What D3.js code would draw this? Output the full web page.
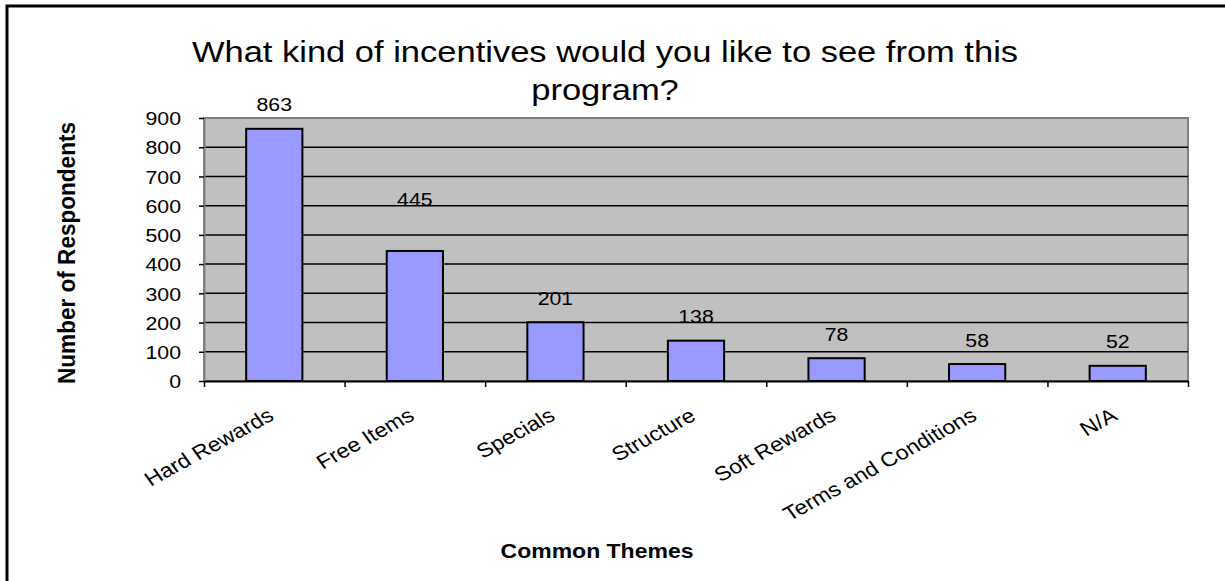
<!DOCTYPE html>
<html>
<head>
<meta charset="utf-8">
<script src="https://cdn.jsdelivr.net/npm/d3@7"></script>
<style>
  body { margin: 0; background: #fff; }
  text { font-family: "Liberation Sans", Arial, sans-serif; fill: #000; }
</style>
</head>
<body>
<div id="chart"></div>
<script>
// data
const categories = ["Hard Rewards", "Free Items", "Specials", "Structure", "Soft Rewards", "Terms and Conditions", "N/A"];
const respondents = [863, 445, 201, 138, 78, 58, 52];
const yTicks = [0, 100, 200, 300, 400, 500, 600, 700, 800, 900];
const titleLines = ["What kind of incentives would you like to see from this", "program?"];

const width = 1225;
const height = 581;
const plot = {l: 204, r: 1188, t: 118, b: 381};
const stretch = 1.15; // picture is a bit wider than tall

const svg = d3.select("#chart")
    .append("svg")
    .attr("width", width)
    .attr("height", height)
    .attr("viewBox", [0, 0, width, height]);

svg.append("rect")
    .attr("width", width)
    .attr("height", height)
    .attr("fill", "white");

// outer frame (right and bottom fall off the page)
svg.append("rect")
    .attr("x", 7)
    .attr("y", 6)
    .attr("width", 1400)
    .attr("height", 800)
    .attr("fill", "none")
    .attr("stroke", "black")
    .attr("stroke-width", 3);

const x = d3.scaleBand()
    .domain(categories)
    .range([plot.l, plot.r])
    .paddingInner(0.6)
    .paddingOuter(0.3);

const xEdge = d3.scaleLinear()
    .domain([0, categories.length])
    .range([plot.l, plot.r]);

const y = d3.scaleLinear()
    .domain([0, 900])
    .range([plot.b, plot.t]);

// plot area
svg.append("rect")
    .attr("x", plot.l)
    .attr("y", plot.t)
    .attr("width", plot.r - plot.l)
    .attr("height", plot.b - plot.t)
    .attr("fill", "#c0c0c0")
    .attr("stroke", "#808080")
    .attr("stroke-width", 2);

// gridlines
svg.append("g")
    .selectAll("line")
    .data(yTicks.filter(d => d > 0 && d < 900))
    .enter()
    .append("line")
    .attr("x1", plot.l)
    .attr("x2", plot.r)
    .attr("y1", d => y(d))
    .attr("y2", d => y(d))
    .attr("stroke", "black")
    .attr("stroke-width", 1.5);

// y axis
const yAxis = svg.append("g")
    .attr("transform", "translate(" + plot.l + ",0)")
    .call(d3.axisLeft(y).tickValues(yTicks).tickSize(5).tickSizeOuter(0));
yAxis.select(".domain").attr("stroke", "#808080").attr("stroke-width", 2);
yAxis.selectAll(".tick line").attr("stroke", "black").attr("stroke-width", 1.5);
yAxis.selectAll(".tick text")
    .attr("x", 0)
    .attr("dy", "0.36em")
    .attr("transform", "translate(-23,0) scale(" + stretch + ",1)")
    .attr("font-family", "Liberation Sans, Arial, sans-serif")
    .attr("font-size", "18.5px")
    .attr("fill", "black");

// bars
svg.append("g")
    .selectAll("rect")
    .data(respondents)
    .enter()
    .append("rect")
    .attr("x", (d, i) => x(categories[i]))
    .attr("y", d => y(d))
    .attr("width", x.bandwidth())
    .attr("height", d => y(0) - y(d))
    .attr("fill", "#9999ff")
    .attr("stroke", "black")
    .attr("stroke-width", 2);

// x axis
const xAxis = svg.append("g")
    .attr("transform", "translate(0," + plot.b + ")")
    .call(d3.axisBottom(xEdge).tickValues(d3.range(categories.length + 1)).tickSize(6).tickSizeOuter(0).tickFormat(""));
xAxis.select(".domain").attr("stroke", "black").attr("stroke-width", 2);
xAxis.selectAll(".tick line").attr("stroke", "black").attr("stroke-width", 1.5);

// category labels
svg.append("g")
    .selectAll("text")
    .data(categories)
    .enter()
    .append("text")
    .attr("text-anchor", "end")
    .attr("font-size", "20px")
    .attr("transform", d => "translate(" + (x(d) + x.bandwidth() / 2 + 1) + ",419) scale(" + stretch + ",1) rotate(-32)")
    .text(d => d);

// value labels (Excel left "Free Items" label higher)
const labelNudge = {"Free Items": -28};
svg.append("g")
    .selectAll("text")
    .data(respondents)
    .enter()
    .append("text")
    .attr("text-anchor", "middle")
    .attr("font-size", "18.5px")
    .attr("dy", "0.36em")
    .attr("transform", (d, i) => "translate(" + (x(categories[i]) + x.bandwidth() / 2) + "," + (y(d) - 24 + (labelNudge[categories[i]] || 0)) + ") scale(" + stretch + ",1)")
    .text(d => d);

// title
svg.append("g")
    .selectAll("text")
    .data(titleLines)
    .enter()
    .append("text")
    .attr("text-anchor", "middle")
    .attr("font-size", "30px")
    .attr("transform", (d, i) => "translate(605," + (62 + i * 38) + ") scale(" + stretch + ",1)")
    .text(d => d);

// axis titles
svg.append("text")
    .attr("text-anchor", "middle")
    .attr("font-size", "20px")
    .attr("font-weight", "bold")
    .attr("transform", "translate(597,558) scale(" + stretch + ",1)")
    .text("Common Themes");

svg.append("text")
    .attr("text-anchor", "middle")
    .attr("font-size", "20px")
    .attr("font-weight", "bold")
    .attr("textLength", 262)
    .attr("lengthAdjust", "spacingAndGlyphs")
    .attr("transform", "translate(75,253) scale(" + stretch + ",1) rotate(-90)")
    .text("Number of Respondents");
</script>
</body>
</html>
